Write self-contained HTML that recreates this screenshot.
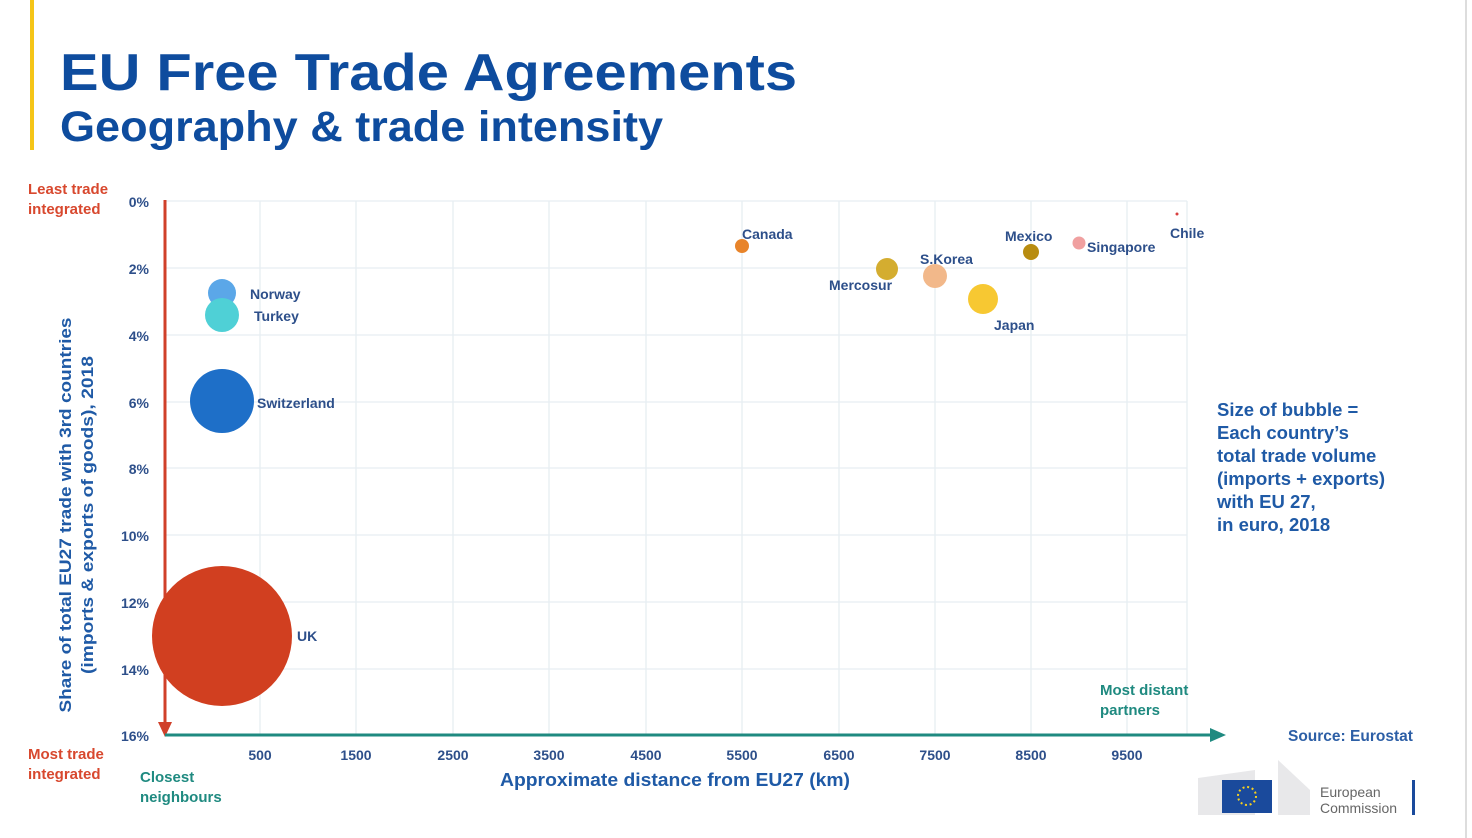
<!DOCTYPE html>
<html><head><meta charset="utf-8"><style>
body{margin:0;background:#fff;}
svg{display:block;font-family:"Liberation Sans",Arial,sans-serif;font-weight:bold;}
</style></head><body>
<svg width="1472" height="838" viewBox="0 0 1472 838" xmlns="http://www.w3.org/2000/svg">
<rect width="1472" height="838" fill="#fff"/>
<rect x="30" y="0" width="4" height="150" fill="#f5c518"/>
<line x1="1466" y1="0" x2="1466" y2="838" stroke="#ddd" stroke-width="2"/>
<text x="60" y="90" font-size="52" fill="#0e4c9e" textLength="737" lengthAdjust="spacingAndGlyphs">EU Free Trade Agreements</text>
<text x="60" y="141" font-size="43" fill="#0e4c9e" textLength="603" lengthAdjust="spacingAndGlyphs">Geography &amp; trade intensity</text>
<g stroke="#e6eef2" stroke-width="1.3">
<line x1="165" y1="201" x2="1187" y2="201"/><line x1="165" y1="268" x2="1187" y2="268"/>
<line x1="165" y1="335" x2="1187" y2="335"/><line x1="165" y1="402" x2="1187" y2="402"/>
<line x1="165" y1="468" x2="1187" y2="468"/><line x1="165" y1="535" x2="1187" y2="535"/>
<line x1="165" y1="602" x2="1187" y2="602"/><line x1="165" y1="669" x2="1187" y2="669"/>
<line x1="260" y1="201" x2="260" y2="735"/><line x1="356" y1="201" x2="356" y2="735"/>
<line x1="453" y1="201" x2="453" y2="735"/><line x1="549" y1="201" x2="549" y2="735"/>
<line x1="646" y1="201" x2="646" y2="735"/><line x1="742" y1="201" x2="742" y2="735"/>
<line x1="839" y1="201" x2="839" y2="735"/><line x1="935" y1="201" x2="935" y2="735"/>
<line x1="1031" y1="201" x2="1031" y2="735"/><line x1="1127" y1="201" x2="1127" y2="735"/>
<line x1="1187" y1="201" x2="1187" y2="735"/>
</g>
<g font-size="14" fill="#2d4f8a" text-anchor="end">
<text x="149" y="207">0%</text><text x="149" y="274">2%</text><text x="149" y="341">4%</text>
<text x="149" y="408">6%</text><text x="149" y="474">8%</text><text x="149" y="541">10%</text>
<text x="149" y="608">12%</text><text x="149" y="675">14%</text><text x="149" y="741">16%</text>
</g>
<g font-size="14" fill="#2d4f8a" text-anchor="middle">
<text x="260" y="760">500</text><text x="356" y="760">1500</text><text x="453" y="760">2500</text>
<text x="549" y="760">3500</text><text x="646" y="760">4500</text><text x="742" y="760">5500</text>
<text x="839" y="760">6500</text><text x="935" y="760">7500</text><text x="1031" y="760">8500</text>
<text x="1127" y="760">9500</text>
</g>
<text x="675" y="786" font-size="18" fill="#1f5aa6" text-anchor="middle" textLength="350" lengthAdjust="spacingAndGlyphs">Approximate distance from EU27 (km)</text>
<g transform="translate(71,515) rotate(-90)" font-size="17" fill="#1f5aa6" text-anchor="middle">
<text x="0" y="0" textLength="395" lengthAdjust="spacingAndGlyphs">Share of total EU27 trade with 3rd countries</text>
<text x="0" y="22" textLength="318" lengthAdjust="spacingAndGlyphs">(imports &amp; exports of goods), 2018</text>
</g>
<g font-size="15" fill="#d8482e">
<text x="28" y="194">Least trade</text><text x="28" y="214">integrated</text>
<text x="28" y="759">Most trade</text><text x="28" y="779">integrated</text>
</g>
<g font-size="15" fill="#1f8a80">
<text x="140" y="782">Closest</text><text x="140" y="802">neighbours</text>
<text x="1100" y="695">Most distant</text><text x="1100" y="715">partners</text>
</g>
<line x1="165" y1="200" x2="165" y2="725" stroke="#d0402a" stroke-width="3"/>
<polygon points="158,722 172,722 165,737" fill="#d0402a"/>
<line x1="165" y1="735" x2="1212" y2="735" stroke="#1f8a80" stroke-width="3"/>
<polygon points="1210,728 1226,735 1210,742" fill="#1f8a80"/>
<circle cx="222" cy="636" r="70" fill="#d13f20"/>
<circle cx="222" cy="401" r="32" fill="#1e6fc8"/>
<circle cx="222" cy="293" r="14" fill="#5ba7e8"/>
<circle cx="222" cy="315" r="17" fill="#4fd0d6"/>
<circle cx="742" cy="246" r="7" fill="#e8842a"/>
<circle cx="887" cy="269" r="11" fill="#d4ad30"/>
<circle cx="935" cy="276" r="12" fill="#f2b88a"/>
<circle cx="983" cy="299" r="15" fill="#f7c832"/>
<circle cx="1031" cy="252" r="8" fill="#b88c10"/>
<circle cx="1079" cy="243" r="6.5" fill="#f0a0a0"/>
<circle cx="1177" cy="214" r="1.5" fill="#d84040"/>
<g font-size="14" fill="#2d4f8a">
<text x="250" y="299">Norway</text><text x="254" y="321">Turkey</text>
<text x="257" y="408">Switzerland</text><text x="297" y="641">UK</text>
<text x="742" y="239">Canada</text><text x="829" y="290">Mercosur</text>
<text x="920" y="264">S.Korea</text><text x="994" y="330">Japan</text>
<text x="1005" y="241">Mexico</text><text x="1087" y="252">Singapore</text>
<text x="1170" y="238">Chile</text>
</g>
<g font-size="18.5" fill="#1f5aa6">
<text x="1217" y="416">Size of bubble =</text><text x="1217" y="439">Each country’s</text>
<text x="1217" y="462">total trade volume</text><text x="1217" y="485">(imports + exports)</text>
<text x="1217" y="508">with EU 27,</text><text x="1217" y="531">in euro, 2018</text>
</g>
<text x="1288" y="741" font-size="15.5" fill="#2d5fa6">Source: Eurostat</text>
<polygon points="1198,778 1255,770 1255,815 1198,815" fill="#e8e8ea"/>
<polygon points="1278,760 1310,790 1310,815 1278,815" fill="#e8e8ea"/>
<rect x="1222" y="780" width="50" height="33" fill="#1a4a9c"/>
<circle cx="1247" cy="796" r="9" fill="none" stroke="#f5d020" stroke-width="2" stroke-dasharray="2 2.7"/>
<text x="1320" y="797" font-size="14" font-weight="normal" fill="#666">European</text>
<text x="1320" y="813" font-size="14" font-weight="normal" fill="#666">Commission</text>
<rect x="1412" y="780" width="3" height="35" fill="#1a4a9c"/>
</svg>
</body></html>
